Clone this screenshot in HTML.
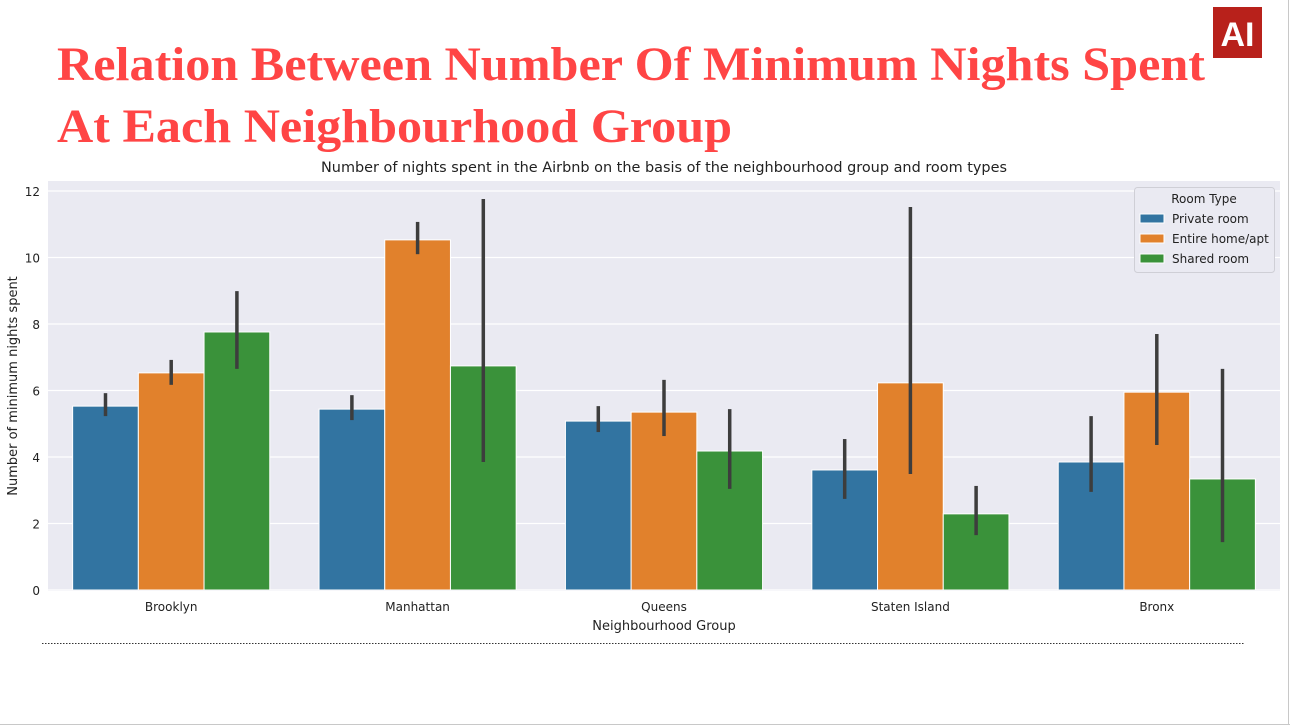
<!DOCTYPE html>
<html><head><meta charset="utf-8"><style>
html,body{margin:0;padding:0;background:#fff;}
svg{display:block;}
</style></head><body>
<svg id="root" width="1290" height="725" viewBox="0 0 1290 725" xmlns="http://www.w3.org/2000/svg">
<line x1="1288.5" y1="0" x2="1288.5" y2="725" stroke="#c8c8c8"/>
<line x1="0" y1="724.5" x2="1290" y2="724.5" stroke="#c8c8c8"/>
<text x="57" y="80" font-family="Liberation Serif, serif" font-weight="bold" font-size="48" fill="#ff4545" textLength="1148" lengthAdjust="spacingAndGlyphs">Relation Between Number Of Minimum Nights Spent</text>
<text x="57" y="142" font-family="Liberation Serif, serif" font-weight="bold" font-size="48" fill="#ff4545" textLength="675" lengthAdjust="spacingAndGlyphs">At Each Neighbourhood Group</text>
<g>
<rect x="1213" y="7" width="49" height="51" fill="#b8211b"/>
<text x="1237.5" y="46" text-anchor="middle" font-family="Liberation Sans, sans-serif" font-weight="bold" font-size="34" fill="#fff">AI</text>
</g>
<line x1="42" y1="643.5" x2="1245" y2="643.5" stroke="#333" stroke-dasharray="1.5,1.5"/>
<text x="664" y="172" text-anchor="middle" font-family="DejaVu Sans, sans-serif" font-size="14" fill="#222" textLength="686" lengthAdjust="spacingAndGlyphs">Number of nights spent in the Airbnb on the basis of the neighbourhood group and room types</text>
<rect x="48" y="181" width="1232" height="410" fill="#eaeaf2"/>
<g id="grid"></g>
<g id="bars"></g>
<g id="axes"></g>
<text transform="translate(17,386) rotate(-90)" text-anchor="middle" font-family="DejaVu Sans, sans-serif" font-size="13" fill="#222">Number of minimum nights spent</text>
<text x="664" y="630" text-anchor="middle" font-family="DejaVu Sans, sans-serif" font-size="13" fill="#222">Neighbourhood Group</text>
<g id="legend">
<rect x="1134.5" y="187.5" width="140" height="85" rx="3" fill="#eaeaf2" stroke="#cfcfd6"/>
<text x="1204" y="203" text-anchor="middle" font-family="DejaVu Sans, sans-serif" font-size="12" fill="#222">Room Type</text>
</g>
</svg>
<script>
const categories = ["Brooklyn","Manhattan","Queens","Staten Island","Bronx"];
const seriesNames = ["Private room","Entire home/apt","Shared room"];
const colors = ["#3274a1","#e1812c","#3a923a"];
const privateVals = [5.53,5.44,5.08,3.61,3.85];
const entireVals = [6.53,10.53,5.35,6.23,5.95];
const sharedVals = [7.76,6.74,4.18,2.29,3.34];
const privateLo = [5.23,5.11,4.75,2.74,2.95];
const privateHi = [5.92,5.86,5.53,4.54,5.23];
const entireLo = [6.17,10.1,4.63,3.49,4.36];
const entireHi = [6.92,11.07,6.32,11.52,7.7];
const sharedLo = [6.65,3.85,3.04,1.65,1.44];
const sharedHi = [8.99,11.76,5.44,3.13,6.65];
const yTicks = [0,2,4,6,8,10,12];

const NS="http://www.w3.org/2000/svg";
const X0=48, W=1232, Y0=590, PER=33.25;
const y = v => Y0 - v*PER;
const band = W/categories.length;
const xc = i => X0 + band*(i+0.5);
const bw = band*0.8/3;
function mk(tag, attrs, parent){const e=document.createElementNS(NS,tag);for(const k in attrs)e.setAttribute(k,attrs[k]);parent.appendChild(e);return e;}
const grid=document.getElementById('grid'), bars=document.getElementById('bars'), axes=document.getElementById('axes');
yTicks.forEach(t=>{
  const l=mk('line',{x1:X0,x2:X0+W,y1:y(t),y2:y(t),stroke:'#fff','stroke-width':1.2},grid);
  
  
  const tx=mk('text',{x:40,y:y(t)+5,'text-anchor':'end','font-family':'DejaVu Sans, sans-serif','font-size':12,fill:'#222'},axes);
  tx.textContent=t;
  
  
});
const vals=[privateVals,entireVals,sharedVals], los=[privateLo,entireLo,sharedLo], his=[privateHi,entireHi,sharedHi];
categories.forEach((c,i)=>{
  const tx=mk('text',{x:xc(i),y:611,'text-anchor':'middle','font-family':'DejaVu Sans, sans-serif','font-size':12,fill:'#222'},axes);
  tx.textContent=c;
  
  
  for(let s=0;s<3;s++){
    const x=xc(i)-1.5*bw+s*bw;
    const r=mk('rect',{x:x,y:y(vals[s][i]),width:bw,height:vals[s][i]*PER,fill:colors[s],stroke:'#fff','stroke-width':1},bars);
    
    
    const e=mk('line',{x1:x+bw/2,x2:x+bw/2,y1:y(los[s][i]),y2:y(his[s][i]),stroke:'#3d3d3d','stroke-width':3.5},bars);
    
    
  }
});
const lg=document.getElementById('legend');
seriesNames.forEach((n,s)=>{
  const r=mk('rect',{x:1140,y:214+s*20,width:24,height:9,fill:colors[s],stroke:'#fff'},lg);
  
  
  const t=mk('text',{x:1172,y:223+s*20,'font-family':'DejaVu Sans, sans-serif','font-size':12,fill:'#222'},lg);
  t.textContent=n;
  
  
});
</script>
</body></html>
